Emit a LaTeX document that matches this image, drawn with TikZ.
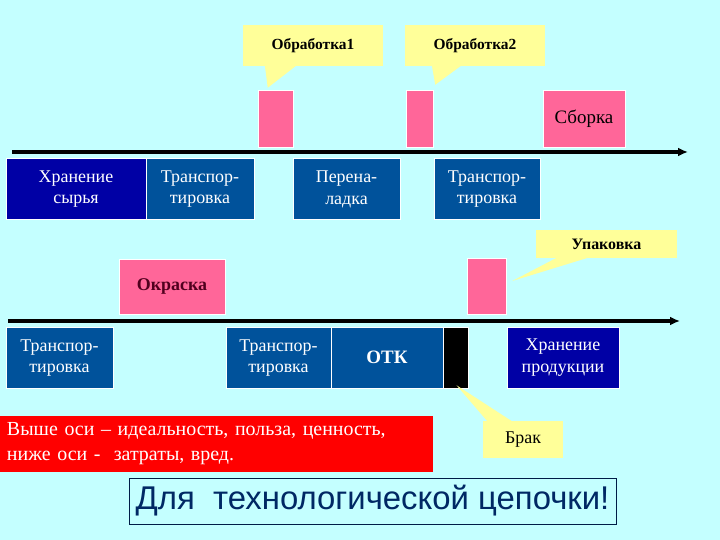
\documentclass[tikz,border=0pt]{standalone}
\usepackage{fontspec}
\setmainfont{Liberation Serif}
\newfontfamily\bigsans{Liberation Sans}
\usetikzlibrary{arrows.meta,calc}
\definecolor{sky}{RGB}{196,255,255}
\definecolor{deep}{RGB}{0,0,165}
\definecolor{mid}{RGB}{0,82,155}
\definecolor{rose}{RGB}{255,102,153}
\definecolor{cream}{RGB}{255,255,153}
\definecolor{maroon}{RGB}{80,0,30}
\definecolor{navy}{RGB}{0,40,100}
\definecolor{alarm}{RGB}{255,0,0}
\tikzset{
  op/.style={fill=#1,draw=white,line width=0.5pt,text=white,align=center,
    font=\fontsize{18}{22}\selectfont,minimum height=61bp,inner sep=0pt},
  op/.default=mid,
  act/.style={fill=rose,draw=white,line width=0.5pt,minimum height=56bp,inner sep=0pt,
    font=\fontsize{18}{20}\selectfont\bfseries,text=maroon},
  note/.style={fill=cream,inner sep=0pt,font=\fontsize{15.5}{18}\selectfont\bfseries},
  axis/.style={-{Latex[length=10bp,width=9bp]},line width=3.5bp},
}
\begin{document}
\begin{tikzpicture}[x=1bp,y=-1bp]
  \fill[sky] (0,0) rectangle (720,540);
  \useasboundingbox (0,0) rectangle (720,540);
  % axes
  \coordinate (top0) at (12,152);
  \coordinate (top1) at (688,152);
  \coordinate (bot0) at (8,321);
  \coordinate (bot1) at (680,321);
  % upper chain
  \node[act,minimum width=35bp,minimum height=57bp] (proc1) at (275.5,118.5) {};
  \node[act,minimum width=27bp,minimum height=57bp] (proc2) at (419.5,118.5) {};
  \node[act,minimum width=82bp,minimum height=57bp,font=\fontsize{19}{21}\selectfont,text=black] (asm) at (584,118.5) {Сборка};
  \node[op=deep,minimum width=140bp] (raw) at (76,189) {Хранение\\сырья};
  \node[op,minimum width=108bp] (move1) at (200,189) {Транспор-\\тировка};
  \node[op,minimum width=107bp] (reset) at (346.5,189) {Перена-\\ладка};
  \node[op,minimum width=106bp] (move2) at (487,189) {Транспор-\\тировка};
  \draw[axis] (top0) -- (top1);
  % lower chain
  \node[act,minimum width=106bp,minimum height=55bp] (paint) at (172,286.5) {Окраска};
  \node[act,minimum width=39bp] (pack) at (486.5,286) {};
  \node[op,minimum width=107bp] (move3) at (59.5,358) {Транспор-\\тировка};
  \node[op,minimum width=105bp] (move4) at (278.5,358) {Транспор-\\тировка};
  \node[op,minimum width=112bp,font=\fontsize{19}{21}\selectfont\bfseries] (qc) at (387,357.5) {ОТК};
  \node[op=black,minimum width=25bp] (scrap) at (455.5,357.5) {};
  \node[op=deep,minimum width=112bp] (store) at (563,358) {Хранение\\продукции};
  \draw[axis] (bot0) -- (bot1);
  % callouts
  \node[note,minimum width=140bp,minimum height=41bp] (n1) at (313,45.5) {Обработка1};
  \node[note,minimum width=140bp,minimum height=41bp] (n2) at (475,45.5) {Обработка2};
  \node[note,minimum width=141bp,minimum height=28bp,font=\fontsize{16}{18}\selectfont\bfseries] (n3) at (606.5,244) {Упаковка};
  \node[note,minimum width=80bp,minimum height=37bp,font=\fontsize{18}{20}\selectfont] (n4) at (523,439.5) {Брак};
  \fill[cream] ($(n1.south west)+(22,-1)$) -- ($(proc1.north west)+(10,-2)$) -- ($(n1.south west)+(54,-1)$) -- cycle;
  \fill[cream] ($(n2.south west)+(27,-1)$) -- ($(proc2.north east)+(2,-5)$) -- ($(n2.south west)+(57,-1)$) -- cycle;
  \fill[cream] ($(n3.south west)+(22,-1)$) -- ($(pack.east)+(6,-5)$) -- ($(n3.south west)+(54,-1)$) -- cycle;
  \fill[cream] ($(n4.north west)+(5,1)$) -- ($(scrap.south)+(1,-3)$) -- ($(n4.north west)+(30,1)$) -- cycle;
  % notes below
  \node[fill=alarm,text=white,minimum width=433bp,minimum height=56bp,inner xsep=7bp,
    text width=419bp,align=left,font=\fontsize{20}{25}\selectfont] (legend) at (216.5,444)
    {Выше оси – идеальность, польза, ценность,\\ниже оси -\ \ затраты, вред.};
  \node[draw=navy!70!black,fill=sky,line width=0.8pt,minimum width=487bp,minimum height=46bp,
    inner sep=0pt,text=navy,font=\bigsans\fontsize{33}{36}\selectfont] (motto) at (372.5,501)
    {Для\ \ технологической цепочки!};
\end{tikzpicture}
\end{document}
